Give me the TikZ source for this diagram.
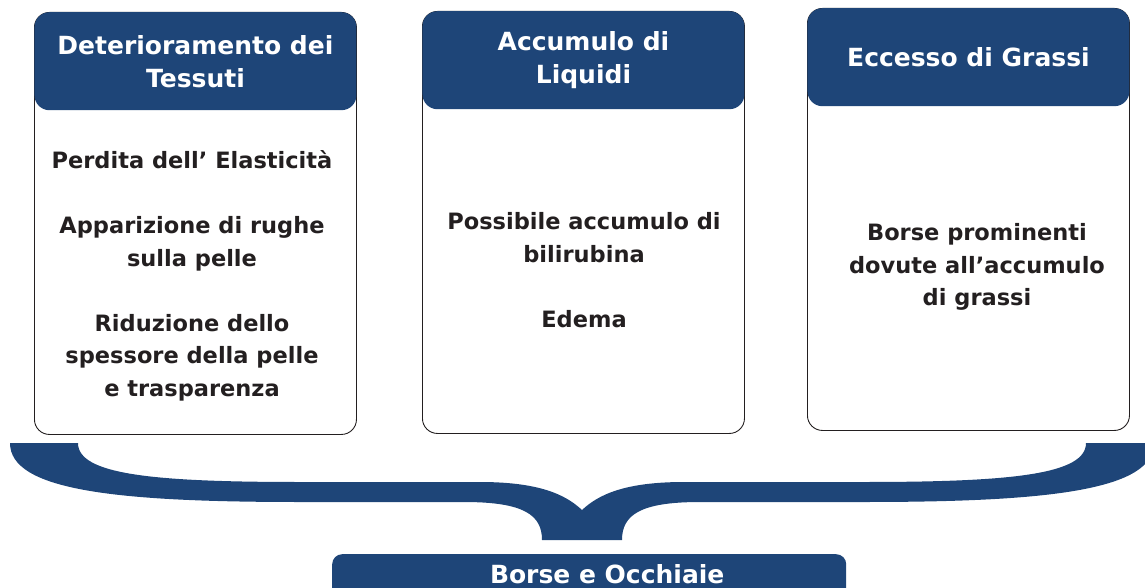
\documentclass[tikz,border=0pt]{standalone}
\usepackage{fontspec}
\setmainfont{DejaVu Sans}
\definecolor{headblue}{RGB}{30,69,120}
\definecolor{textdark}{RGB}{35,31,32}

\begin{document}
\begin{tikzpicture}[x=1pt, y=-1pt]
    \tikzset{
        cardbox/.style={draw=textdark, line width=0.9pt, rounded corners=15pt, minimum width=322pt, minimum height=422pt, inner sep=0pt, anchor=north west},
        cardhead/.style={fill=headblue, rounded corners=15pt, minimum width=322pt, minimum height=98pt, inner sep=0pt, anchor=north, text=white, align=center, font=\bfseries\fontsize{25}{33}\selectfont},
        cardtext/.style={text=textdark, align=center, inner sep=0pt, font=\bfseries\fontsize{22.5}{32.5}\selectfont},
        resultbox/.style={fill=headblue, rounded corners=10pt, minimum width=514pt, minimum height=46pt, inner sep=0pt, anchor=north west}
    }
    \useasboundingbox (0,0) rectangle (1145,588);

        % the three cards
        \node[cardbox] (boxA) at (34,12) {};
        \node[cardbox] (boxB) at (422,11) {};
        \node[cardbox] (boxC) at (807,8) {};

        \node[cardhead] (headA) at (boxA.north) {Deterioramento dei\\Tessuti};
        \node[cardhead] (headB) at (boxB.north) {Accumulo di\\Liquidi};
        \node[cardhead] (headC) at (boxC.north) {Eccesso di Grassi};

        \node[cardtext] (txtA) at (192,276) {Perdita dell’ Elasticità\\[32.5pt]Apparizione di rughe\\sulla pelle\\[32.5pt]Riduzione dello\\spessore della pelle\\e trasparenza};
        \node[cardtext] (txtB) at (584,270) {Possibile accumulo di\\bilirubina\\[32.5pt]Edema};
        \node[cardtext] (txtC) at (977,267) {Borse prominenti\\dovute all’accumulo\\di grassi};

        % the brace
        \fill[headblue] (10,443) -- (78,443)
            .. controls (78,474) and (150,482) .. (300,482) -- (480,482)
            .. controls (540,482) and (566,495) .. (582,510)
            .. controls (598,495) and (624,482) .. (684,482) -- (864,482)
            .. controls (1014,482) and (1086,474) .. (1086,443) -- (1154,443)
            .. controls (1154,490) and (1050,502) .. (864,502) -- (700,502)
            .. controls (640,502) and (622,515) .. (622,540) -- (542,540)
            .. controls (542,515) and (524,502) .. (464,502) -- (300,502)
            .. controls (114,502) and (10,490) .. cycle;

        \node[resultbox] (result) at (332,554) {};
        \node[text=white, inner sep=0pt, anchor=base, font=\bfseries\fontsize{25}{30}\selectfont] (resultlabel) at ([xshift=18pt]result.center |- 0,583) {Borse e Occhiaie};

    \end{tikzpicture}
\end{document}
